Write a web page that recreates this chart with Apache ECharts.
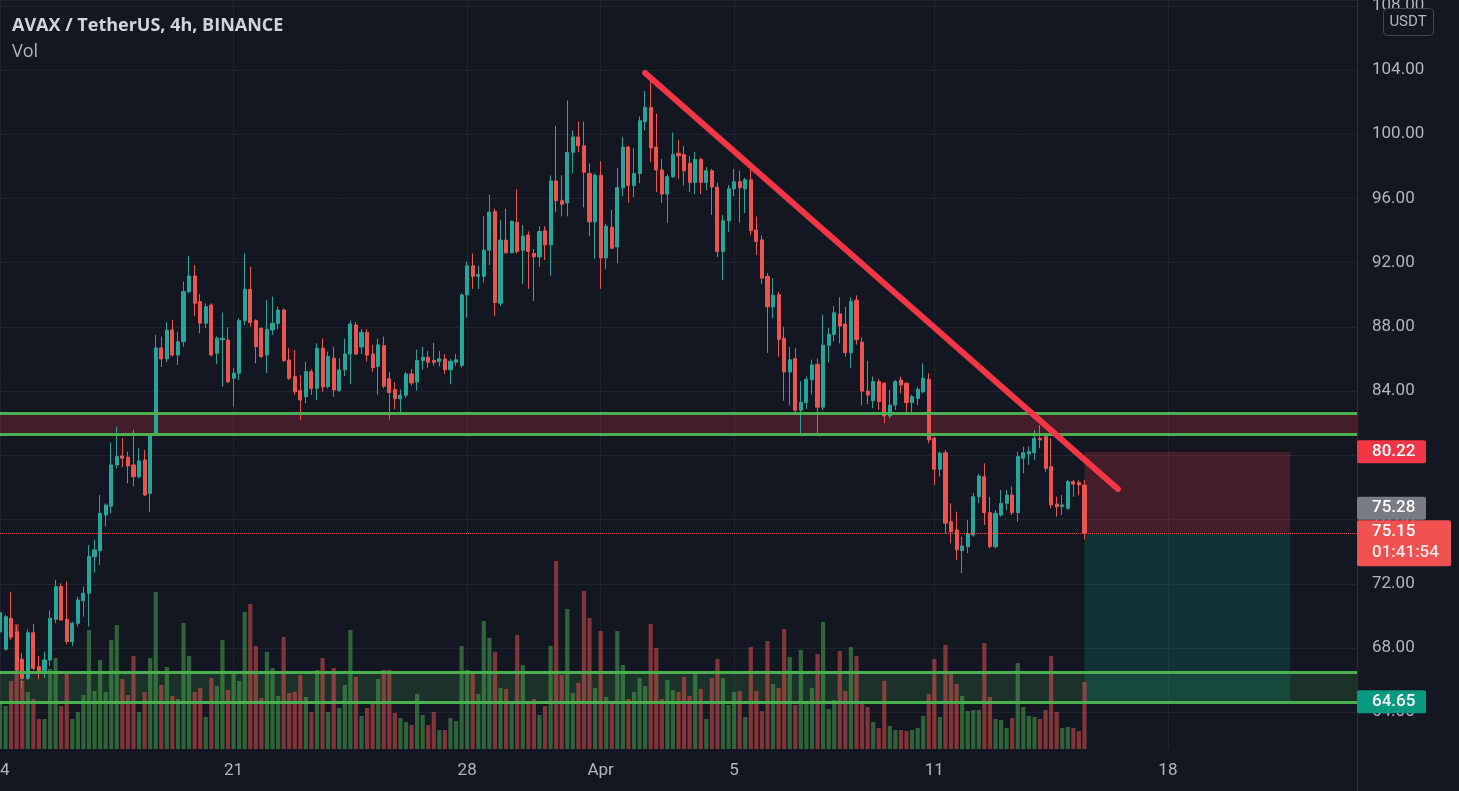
<!DOCTYPE html>
<html><head><meta charset="utf-8">
<script src="https://cdn.jsdelivr.net/npm/echarts@6/dist/echarts.min.js"></script>
<style>html,body{margin:0;padding:0;background:#131722;overflow:hidden}#c{width:1459px;height:791px}</style>
</head><body><div id="c"></div>
<script>
// ---- DATA: AVAX/USDT 4h candles (index 0 = 14 Mar 2022 00:00) ----
const opens = [69.0,67.92,69.85,69.01,67.30,66.11,68.95,66.84,66.59,67.25,
69.79,71.82,69.79,68.40,69.54,70.95,71.41,73.69,74.06,76.28,
76.84,79.40,79.96,79.88,79.40,78.67,79.71,77.63,81.37,86.69,
86.00,87.81,86.25,87.08,90.19,91.17,89.57,88.23,89.36,86.36,
87.20,87.18,84.80,85.11,88.39,90.34,88.39,87.91,86.25,87.81,
88.22,89.05,85.94,84.90,84.03,83.65,85.21,84.17,86.67,84.27,
86.05,84.03,85.33,86.31,88.12,86.75,87.66,86.31,85.54,86.83,
84.77,84.10,83.52,83.74,85.07,84.56,85.90,86.11,85.90,85.85,
86.00,85.33,85.80,85.59,89.99,91.80,91.15,91.15,92.78,95.20,
89.47,93.40,92.62,94.51,92.78,93.72,92.57,92.36,93.99,93.11,
97.09,95.86,95.72,98.87,99.83,99.28,97.55,94.54,97.44,92.29,
94.21,92.98,96.67,99.20,96.81,97.55,100.79,101.67,99.20,97.77,
96.27,97.36,98.81,98.73,98.19,97.00,98.43,97.00,97.72,96.71,
92.70,94.61,96.60,97.04,96.60,97.16,94.04,93.42,91.15,89.25,
90.00,87.29,85.19,86.02,82.81,83.29,84.72,85.67,83.00,86.86,
87.52,88.81,88.18,86.39,89.67,87.05,84.00,83.40,84.59,84.49,
82.45,83.13,84.69,84.49,83.28,83.55,83.96,84.74,81.06,79.13,
80.16,75.87,75.35,74.06,74.31,75.04,77.42,78.67,76.43,74.31,
76.28,77.01,77.53,76.43,79.82,80.09,80.16,81.06,81.16,79.30,
76.97,76.80,76.70,78.36,78.30,78.15];
const closes = [70.2,69.95,68.67,66.63,66.11,68.95,66.73,66.52,67.25,69.85,
71.82,69.74,68.40,69.54,70.99,71.41,73.69,74.11,76.39,76.91,
79.40,79.92,79.82,79.34,78.67,79.65,77.53,81.27,86.69,86.00,
87.80,86.25,87.07,90.19,91.17,89.47,88.23,89.26,86.25,87.29,
87.29,84.58,85.12,88.39,90.34,88.26,86.77,86.15,87.85,88.22,
89.05,85.89,84.80,83.96,83.45,85.21,84.17,86.67,84.27,86.15,
84.07,85.31,86.31,88.18,86.31,87.66,86.24,85.46,86.88,84.30,
83.91,83.52,83.74,85.07,84.51,85.90,86.11,85.80,85.80,86.01,
85.33,85.85,85.95,89.99,91.80,91.15,91.27,92.78,95.15,89.52,
93.40,92.62,94.58,92.70,93.66,92.70,92.36,93.94,93.11,97.09,
95.86,95.64,98.87,99.83,99.28,97.63,94.54,97.44,92.29,94.27,
92.90,96.67,99.20,96.81,97.55,100.84,101.67,99.14,97.77,96.27,
97.36,98.73,98.65,97.72,97.00,98.43,97.00,97.72,96.71,92.70,
94.61,96.60,97.04,96.68,97.16,94.00,93.32,91.03,89.25,89.96,
87.22,85.19,85.95,82.81,83.29,84.72,85.62,83.00,86.86,87.52,
88.88,88.05,86.39,89.60,87.20,84.00,83.75,84.59,83.34,82.45,
83.13,84.59,84.38,83.28,83.65,84.11,84.80,80.96,79.13,80.13,
75.77,75.24,74.11,74.35,75.10,77.42,78.71,76.43,74.31,76.39,
77.01,77.53,76.43,79.92,80.16,80.23,81.06,80.96,79.19,76.91,
76.80,76.91,78.36,78.21,78.15,75.15];
const lows = [68.6,67.83,68.50,66.43,65.49,66.00,66.62,66.05,66.11,66.87,
69.54,69.70,68.25,68.12,69.33,69.95,69.33,72.69,73.17,75.56,
76.39,79.19,79.26,78.26,78.05,78.57,77.47,76.49,81.20,85.50,
85.80,86.15,85.63,86.77,90.09,88.68,87.60,87.91,86.15,85.69,
84.27,84.49,83.03,84.69,88.12,88.01,85.73,86.05,85.11,87.50,
87.85,85.83,84.69,83.76,82.20,83.24,83.76,83.45,83.96,84.17,
83.65,83.96,84.94,84.43,86.24,86.31,85.85,85.20,83.78,84.17,
82.23,82.88,82.62,83.58,84.35,84.04,85.33,85.46,85.59,85.54,
85.07,84.43,85.59,85.46,88.57,90.37,90.37,90.76,91.85,88.69,
89.29,92.57,92.57,92.57,90.65,90.37,89.61,91.74,92.16,91.19,
95.17,94.89,94.89,97.55,98.87,95.44,93.66,92.24,90.37,91.61,
92.84,91.96,96.13,95.72,96.07,96.95,100.24,98.26,96.40,95.72,
94.48,97.28,97.22,96.81,96.40,96.28,96.28,96.52,94.97,92.35,
90.91,93.92,96.16,94.49,95.09,93.70,92.47,90.67,86.38,88.53,
86.14,83.40,83.10,82.62,81.38,82.90,83.79,81.38,82.81,85.79,
87.09,86.97,86.15,85.43,86.90,83.10,83.18,82.93,82.83,82.00,
82.31,82.83,83.86,82.72,82.62,83.13,83.86,80.75,78.15,78.67,
75.15,74.52,73.48,72.65,73.90,74.93,77.01,75.66,74.21,74.21,
76.18,76.59,76.28,75.87,78.88,79.40,79.71,80.44,78.98,76.70,
76.18,76.28,76.59,77.42,77.53,74.77];
const highs = [70.5,70.06,71.49,69.43,67.67,69.16,69.49,67.50,67.77,70.35,
72.24,72.03,72.13,69.64,71.20,71.82,74.42,74.73,77.53,77.01,
80.79,81.78,81.06,80.23,81.58,80.44,80.33,81.37,87.50,87.40,
88.30,88.43,87.70,90.82,92.42,91.85,90.05,89.47,89.47,87.39,
88.89,87.97,85.42,88.54,92.58,91.75,88.47,87.97,89.67,89.88,
89.26,89.16,86.67,86.56,85.00,85.83,85.36,86.98,87.29,86.46,
86.77,86.05,87.27,88.39,88.30,87.87,87.87,86.88,87.27,87.40,
85.20,84.55,84.10,85.20,85.38,86.57,86.76,86.50,87.01,86.50,
86.31,86.00,86.31,90.11,92.05,92.57,91.80,94.90,96.24,95.36,
94.64,95.36,94.64,96.57,94.34,93.94,92.85,94.27,94.27,97.44,
100.51,97.44,102.10,100.24,100.79,100.79,98.18,97.55,98.32,94.43,
95.30,97.91,99.83,99.28,99.14,101.11,102.70,103.51,101.28,98.46,
97.50,100.10,99.64,99.28,98.66,98.90,98.54,97.95,97.84,96.99,
94.97,96.84,97.84,97.72,97.28,98.19,94.87,93.71,91.35,91.03,
90.19,88.00,86.74,86.67,84.62,84.91,85.96,86.02,88.76,87.93,
89.29,89.84,89.25,89.84,89.96,87.36,85.88,84.90,84.74,84.55,
84.07,84.69,84.90,84.55,83.76,84.27,85.73,85.11,81.16,80.23,
80.33,77.01,76.49,74.93,75.97,77.67,78.84,79.50,77.42,76.59,
77.84,77.84,78.05,80.23,80.54,80.54,81.58,81.89,81.37,81.06,
77.42,77.53,78.46,78.46,78.46,78.46];
const volumesK = [47,43,68,125,68,57,50,30,30,80,
91,43,75,30,37,54,119,58,89,57,
109,124,70,54,93,37,57,91,157,64,
82,53,50,126,93,57,61,32,71,63,
109,59,77,68,137,145,103,51,97,81,
53,112,56,57,74,52,37,79,91,37,
81,41,64,119,72,33,41,46,70,79,
79,36,31,27,24,55,34,24,37,19,
19,31,28,103,79,77,55,128,111,97,
61,60,46,114,84,47,50,34,43,103,
188,74,140,56,66,158,131,61,118,52,
45,118,84,50,57,71,63,125,101,50,
69,59,57,72,53,75,60,30,71,90,
71,44,57,58,32,102,58,38,108,65,
61,120,92,44,99,46,61,95,127,40,
49,98,58,102,93,47,42,27,21,68,
23,19,19,18,19,21,33,55,90,32,
104,77,65,53,38,39,39,106,52,30,
29,21,31,86,42,33,32,30,39,93,
37,21,22,21,18,67];
// time axis tick labels (category index -> label)
const dayTickIndex = [0, 42, 84, 108, 132, 168, 210];
const dayTickText  = ['14', '21', '28', 'Apr', '5', '11', '18'];
// drawings
const resistanceBand = [81.33, 82.64];
const supportBand = [64.65, 66.51];
const trendStart = [116, 103.81];
const trendEnd = [201, 77.90];
const positionIdx = [195, 232];
const stopPrice = 80.22, entryPrice = 75.15, targetPrice = 64.65, otherPrice = 75.28;
const countdown = '01:41:54';

// ---- build ----
const N_CAT = 245;
const categories = [];
const t0 = Date.UTC(2022, 2, 14, 0, 0);
for (let j = 0; j < N_CAT; j++) {
  categories.push(new Date(t0 + j * 4 * 3600e3).toISOString().slice(0, 16).replace('T', ' '));
}
const candleData = opens.map((o, i) => [o, closes[i], lows[i], highs[i]]);
const volData = volumesK.map((v, i) => ({
  value: v,
  itemStyle: { color: closes[i] >= opens[i] ? 'rgba(76,175,80,0.5)' : 'rgba(239,83,80,0.5)' }
}));

const FONT = 'Roboto, "Noto Sans", sans-serif';
const TFONT = '"Open Sans", Roboto, sans-serif';
const GRID_C = '#1f2330';
const chart = echarts.init(document.getElementById('c'), null, { renderer: 'canvas' });
const greenLine = { color: '#4caf50', width: 3, type: 'solid' };
const trendStyle = { color: '#f23645', width: 6, type: 'solid', cap: 'round' };

chart.setOption({
  backgroundColor: '#131722',
  animation: false,
  textStyle: { fontFamily: FONT },
  title: [
    { text: 'AVAX / TetherUS, 4h, BINANCE', left: 12, top: 17, padding: 0,
      textStyle: { color: '#d1d4dc', fontSize: 18, fontWeight: 700, fontFamily: TFONT } },
    { text: 'Vol', left: 12, top: 43, padding: 0,
      textStyle: { color: '#b2b5be', fontSize: 18, fontWeight: 400, fontFamily: TFONT } }
  ],
  grid: [
    { left: 0, right: 102, top: 0, bottom: 78.8, containLabel: false, outerBoundsMode: 'none' },
    { left: 0, right: 102, top: 0, bottom: 42, containLabel: false, outerBoundsMode: 'none' }
  ],
  xAxis: [
    { type: 'category', gridIndex: 0, data: categories, boundaryGap: false, show: false },
    { type: 'category', gridIndex: 1, data: categories, boundaryGap: false,
      axisLine: { show: false }, axisTick: { show: false },
      axisLabel: {
        interval: (i) => dayTickIndex.includes(i),
        formatter: (v, i) => { const k = dayTickIndex.indexOf(i); return k >= 0 ? dayTickText[k] : ''; },
        color: '#b2b5be', fontSize: 17, margin: 13, fontFamily: FONT,
        alignMinLabel: 'center', alignMaxLabel: 'center'
      },
      splitLine: { show: true, interval: (i) => dayTickIndex.includes(i), lineStyle: { color: GRID_C, width: 1 } }
    }
  ],
  yAxis: [
    { type: 'value', gridIndex: 0, position: 'right', min: 64, max: 108.36, interval: 4,
      axisLine: { show: false }, axisTick: { show: false },
      axisLabel: { color: '#b2b5be', fontSize: 17, margin: 15, showMaxLabel: false,
        formatter: (v) => v.toFixed(2), fontFamily: FONT },
      splitLine: { show: true, lineStyle: { color: GRID_C, width: 1 } } },
    { type: 'value', gridIndex: 1, min: 0, max: 749, show: false, splitLine: { show: false } }
  ],
  series: [
    { type: 'bar', name: 'Vol', xAxisIndex: 1, yAxisIndex: 1, data: volData, barWidth: 4.2, z: 1, silent: true },
    { type: 'candlestick', name: 'AVAXUSDT', xAxisIndex: 0, yAxisIndex: 0, data: candleData, barWidth: 3.6, z: 3, silent: true,
      itemStyle: { color: '#26a69a', color0: '#ef5350', borderColor: '#26a69a', borderColor0: '#ef5350', borderWidth: 1 },
      markArea: { silent: true, data: [
        [{ yAxis: resistanceBand[0], itemStyle: { color: 'rgba(242,54,69,0.22)' } }, { yAxis: resistanceBand[1] }],
        [{ yAxis: supportBand[0], itemStyle: { color: 'rgba(76,175,80,0.17)' } }, { yAxis: supportBand[1] }],
        [{ coord: [positionIdx[0], stopPrice], itemStyle: { color: 'rgba(242,54,69,0.22)' } }, { coord: [positionIdx[1], entryPrice] }],
        [{ coord: [positionIdx[0], entryPrice], itemStyle: { color: 'rgba(8,153,129,0.22)' } }, { coord: [positionIdx[1], targetPrice] }]
      ] },
      markLine: { silent: true, symbol: ['none', 'none'], label: { show: false }, data: [
        { yAxis: resistanceBand[1], lineStyle: greenLine },
        { yAxis: resistanceBand[0], lineStyle: greenLine },
        { yAxis: supportBand[1], lineStyle: greenLine },
        { yAxis: supportBand[0], lineStyle: greenLine },
        { yAxis: entryPrice, lineStyle: { color: '#ef5350', width: 1, type: 'dotted', opacity: 0.9 } },
        [{ coord: trendStart, lineStyle: trendStyle }, { coord: trendEnd, lineStyle: trendStyle }]
      ] }
    }
  ]
});

// ---- price-scale tags ----
const py = (v) => chart.convertToPixel({ yAxisIndex: 0 }, v);
const AX = 1357;
const g = [];
g.push({ type: 'line', z: 50, shape: { x1: AX + 0.5, y1: 0, x2: AX + 0.5, y2: 791 }, style: { stroke: '#2a2e39', lineWidth: 1 } });
g.push({ type: 'rect', z: 50, shape: { x: 1383.5, y: 8.5, width: 50, height: 27, r: 4 }, style: { fill: '#131722', stroke: '#434651', lineWidth: 1 } });
g.push({ type: 'text', z: 51, style: { text: 'USDT', x: 1408, y: 22, align: 'center', verticalAlign: 'middle', textAlign: 'center', textVerticalAlign: 'middle', fill: '#b2b5be', font: '15px ' + FONT } });
function tag(yc, h, w, bg, lines) {
  g.push({ type: 'rect', z: 60, shape: { x: AX, y: yc - 11.5, width: w, height: h, r: 2 }, style: { fill: bg } });
  lines.forEach((ln, k) => {
    g.push({ type: 'text', z: 61, style: { text: ln.t, x: AX + 15, y: yc + k * 21, align: 'left', verticalAlign: 'middle',
      textAlign: 'left', textVerticalAlign: 'middle', fill: ln.c || '#ffffff', font: '500 17px ' + FONT } });
  });
}
tag(py(stopPrice), 23, 69, '#f23645', [{ t: stopPrice.toFixed(2) }]);
tag(py(entryPrice) - 25, 23, 69, '#787b86', [{ t: otherPrice.toFixed(2) }]);
tag(py(entryPrice) - 1.5, 46, 94, '#f0524f', [{ t: entryPrice.toFixed(2) }, { t: countdown, c: 'rgba(255,255,255,0.85)' }]);
tag(py(targetPrice), 23, 69, '#089981', [{ t: targetPrice.toFixed(2) }]);
chart.setOption({ graphic: g });
</script>
</body></html>
